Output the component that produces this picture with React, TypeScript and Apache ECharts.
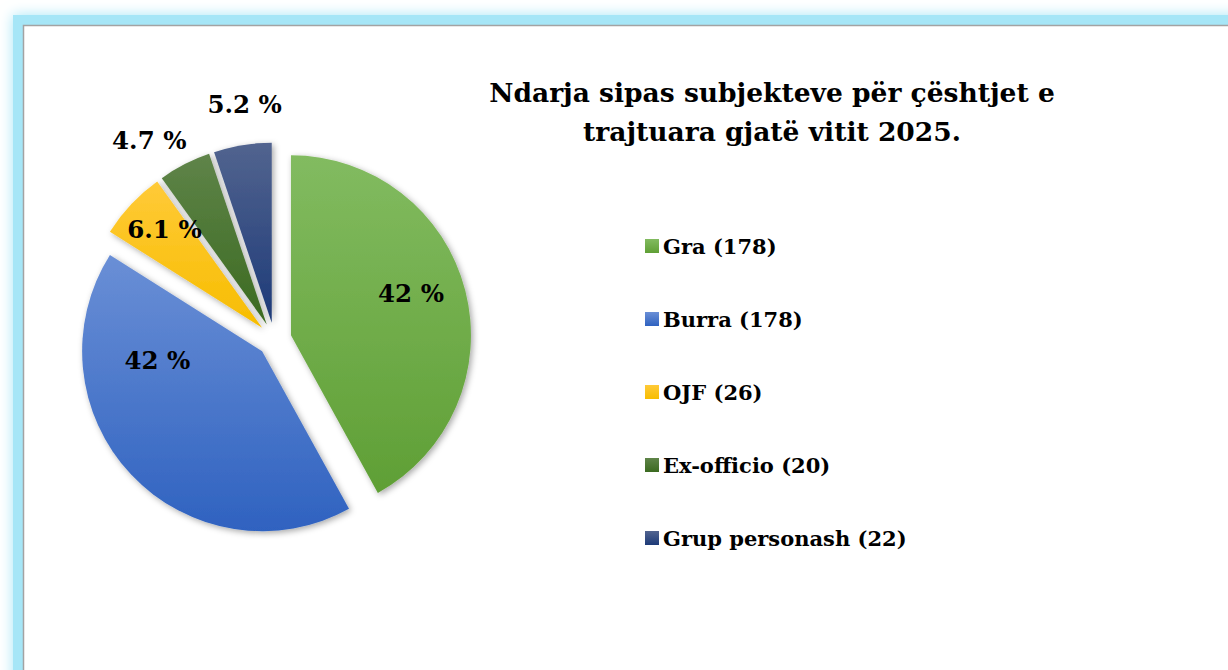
import React, { useEffect, useRef } from "react";
import * as echarts from "echarts";

const categories = ["Gra", "Burra", "OJF", "Ex-officio", "Grup personash"];
const values = [178, 178, 26, 20, 22];
const titleLines = ["Ndarja sipas subjekteve për çështjet e", "trajtuara gjatë vitit 2025."];

// style: gradient colours [top, bottom] per slice
const sliceColors: [string, string][] = [
  ["#82bb60", "#5f9f35"],
  ["#6a8fd6", "#2f62c0"],
  ["#ffca38", "#f7bd00"],
  ["#5f8449", "#3b6a20"],
  ["#52648f", "#1d3a78"],
];
// style: label nudges in px (from ECharts' inside position)
const labelNudge: [number, number][] = [
  [30, -19],
  [-37, -54],
  [-30, -35],
  [-75, -101],
  [-12, -126],
];

const FONT = "'DejaVu Serif', 'Liberation Serif', serif";

export default function App() {
  const ref = useRef<HTMLDivElement>(null);
  useEffect(() => {
    if (!ref.current) return;
    const chart = echarts.init(ref.current, null, { renderer: "svg" });
    const total = values.reduce((a, b) => a + b, 0);
    const fmtPct = (v: number) => {
      const p = (v / total) * 100;
      return (p < 10 ? p.toFixed(1) : p.toFixed(0)) + " %";
    };
    const grad = (c: [string, string]) =>
      new echarts.graphic.LinearGradient(0, 0, 0, 1, [
        { offset: 0, color: c[0] },
        { offset: 1, color: c[1] },
      ]);
    chart.setOption({
      animation: false,
      backgroundColor: "#ffffff",
      graphic: [
        {
          type: "rect",
          z: -10,
          silent: true,
          shape: { x: 13, y: 15, width: 1300, height: 700 },
          style: { fill: "#a6e6f7", shadowBlur: 14, shadowColor: "#a6e6f7" },
        },
        {
          type: "rect",
          z: -9,
          silent: true,
          shape: { x: 23.5, y: 25.5, width: 1300, height: 700 },
          style: { fill: "#ffffff", stroke: "#a3a3a3", lineWidth: 1.5 },
        },
      ],
      title: {
        text: titleLines.join("\n"),
        left: 767,
        top: 68,
        textAlign: "center",
        textStyle: {
          fontFamily: FONT,
          fontWeight: "bold",
          fontSize: 26.5,
          lineHeight: 39,
          color: "#000",
        },
      },
      legend: {
        orient: "vertical",
        left: 640,
        top: 229,
        itemWidth: 14,
        itemHeight: 14,
        itemGap: 49,
        icon: "rect",
        selectedMode: false,
        formatter: (name: string) => {
          const i = categories.indexOf(name);
          return `${name} (${values[i]})`;
        },
        textStyle: {
          fontFamily: FONT,
          fontWeight: "bold",
          fontSize: 21,
          lineHeight: 24,
          color: "#000",
          padding: [0, 0, 0, -1],
        },
      },
      series: [
        {
          type: "pie",
          center: [274.5, 339.5],
          radius: [0, 180],
          startAngle: 90,
          clockwise: true,
          selectedMode: "multiple",
          selectedOffset: 17,
          avoidLabelOverlap: false,
          emphasis: { disabled: true },
          itemStyle: {
            shadowBlur: 6,
            shadowColor: "rgba(0,0,0,0.35)",
            shadowOffsetX: 2,
            shadowOffsetY: 2,
          },
          label: {
            show: true,
            position: "inside",
            formatter: (p: any) => fmtPct(p.value),
            fontFamily: FONT,
            fontWeight: "bold",
            fontSize: 24.5,
            color: "#000",
          },
          labelLine: { show: false },
          labelLayout: (params: any) => {
            const n = labelNudge[params.dataIndex] || [0, 0];
            return { dx: n[0], dy: n[1] };
          },
          data: categories.map((name, i) => ({
            name,
            value: values[i],
            selected: true,
            itemStyle: { color: grad(sliceColors[i]) },
          })),
        },
      ],
    });
    return () => chart.dispose();
  }, []);
  return (
    <div
      ref={ref}
      style={{ position: "fixed", left: 0, top: 0, width: 1228, height: 670 }}
    />
  );
}
